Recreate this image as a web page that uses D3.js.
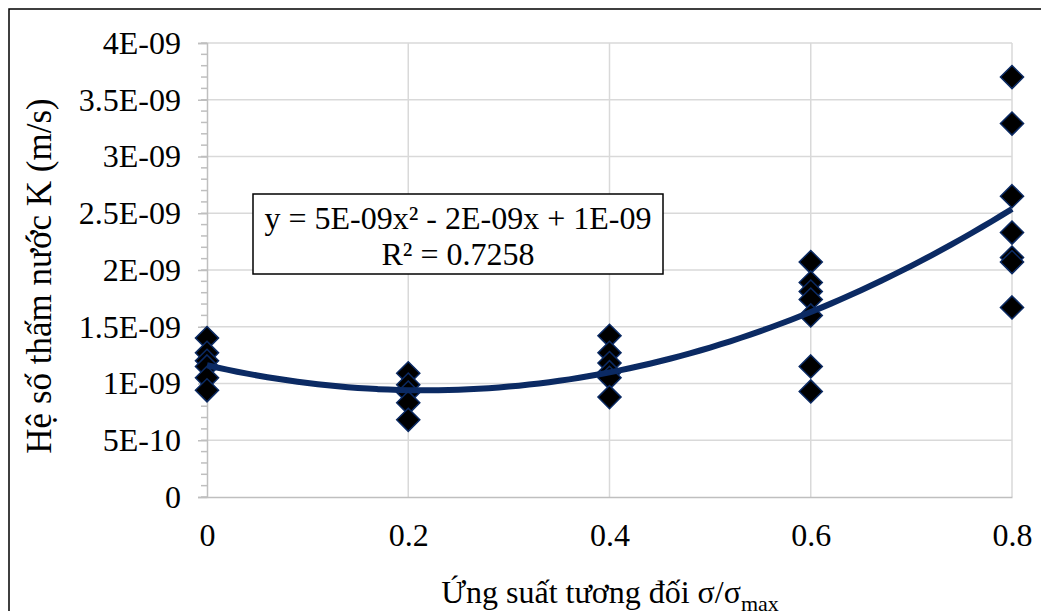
<!DOCTYPE html>
<html>
<head>
<meta charset="utf-8">
<script src="https://cdn.jsdelivr.net/npm/d3@7"></script>
<style>
  body { margin: 0; background: #fff; }
  text { font-family: "Liberation Serif", "Times New Roman", serif; fill: #000; }
</style>
</head>
<body>
<svg id="chart" width="1041" height="611"></svg>
<script>
var stressLevels = [0, 0.2, 0.4, 0.6, 0.8];
var k00 = [1.40e-9, 1.27e-9, 1.20e-9, 1.15e-9, 1.05e-9, 0.94e-9];
var k02 = [1.09e-9, 0.99e-9, 0.92e-9, 0.83e-9, 0.68e-9];
var k04 = [1.42e-9, 1.27e-9, 1.18e-9, 1.10e-9, 1.05e-9, 0.88e-9];
var k06 = [2.07e-9, 1.89e-9, 1.81e-9, 1.74e-9, 1.60e-9, 1.15e-9, 0.93e-9];
var k08 = [3.70e-9, 3.29e-9, 2.65e-9, 2.33e-9, 2.11e-9, 2.07e-9, 1.67e-9];

var xTicks = [0, 0.2, 0.4, 0.6, 0.8];
var xTickLabels = ["0", "0.2", "0.4", "0.6", "0.8"];
var yTicks = [0, 5e-10, 1e-9, 1.5e-9, 2e-9, 2.5e-9, 3e-9, 3.5e-9, 4e-9];
var yTickLabels = ["0", "5E-10", "1E-09", "1.5E-09", "2E-09", "2.5E-09", "3E-09", "3.5E-09", "4E-09"];

var equationText = "y = 5E-09x\u00B2 - 2E-09x + 1E-09";
var r2Text = "R\u00B2 = 0.7258";

// flatten groups into points
var groups = [k00, k02, k04, k06, k08];
var points = [];
groups.forEach(function (g, i) {
    g.forEach(function (v) { points.push({ x: stressLevels[i], y: v }); });
});

var svg = d3.select("#chart");

// outer chart border
svg.append("rect")
    .attr("x", 9).attr("y", 9)
    .attr("width", 1100).attr("height", 700)
    .attr("fill", "#fff")
    .attr("stroke", "#000")
    .attr("stroke-width", 1.5);

var plotL = 207, plotR = 1012, plotT = 43, plotB = 497;

var x = d3.scaleLinear().domain([0, 0.8]).range([plotL, plotR]);
var y = d3.scaleLinear().domain([0, 4e-9]).range([plotB, plotT]);

// gridlines
svg.append("g").selectAll("line")
    .data(yTicks.slice(1))
    .enter().append("line")
    .attr("x1", plotL).attr("x2", plotR)
    .attr("y1", function (d) { return y(d); })
    .attr("y2", function (d) { return y(d); })
    .attr("stroke", "#d9d9d9").attr("stroke-width", 1.5);

svg.append("g").selectAll("line")
    .data(xTicks.slice(1))
    .enter().append("line")
    .attr("y1", plotT).attr("y2", plotB)
    .attr("x1", function (d) { return x(d); })
    .attr("x2", function (d) { return x(d); })
    .attr("stroke", "#d9d9d9").attr("stroke-width", 1.5);

// y axis minor ticks
var minor = d3.range(0, 41).map(function (i) { return i * 1e-10; });
svg.append("g").selectAll("line")
    .data(minor)
    .enter().append("line")
    .attr("x1", plotL - 6).attr("x2", plotL)
    .attr("y1", function (d) { return y(d); })
    .attr("y2", function (d) { return y(d); })
    .attr("stroke", "#bfbfbf").attr("stroke-width", 1.5);

// y axis
var yAxis = d3.axisLeft(y)
    .tickValues(yTicks)
    .tickSize(9)
    .tickPadding(17)
    .tickFormat(function (d, i) { return yTickLabels[i]; });
var gy = svg.append("g").attr("transform", "translate(" + plotL + ",0)").call(yAxis);
gy.select(".domain").attr("stroke", "#bfbfbf").attr("stroke-width", 1.5);
gy.selectAll(".tick line").attr("stroke", "#bfbfbf").attr("stroke-width", 1.5);
gy.selectAll(".tick text").style("font-family", "Liberation Serif").style("font-size", "32px").attr("fill", "#000");

// x axis (no tick marks)
var xAxis = d3.axisBottom(x)
    .tickValues(xTicks)
    .tickSize(0)
    .tickPadding(26)
    .tickFormat(function (d, i) { return xTickLabels[i]; });
var gx = svg.append("g").attr("transform", "translate(0," + plotB + ")").call(xAxis);
gx.select(".domain").attr("stroke", "#bfbfbf").attr("stroke-width", 1.5);
gx.selectAll(".tick text").style("font-family", "Liberation Serif").style("font-size", "32px").attr("fill", "#000");

// quadratic least-squares trendline
function polyFit2(pts) {
    var s = [0, 0, 0, 0, 0], t = [0, 0, 0];
    pts.forEach(function (p) {
        for (var k = 0; k < 5; k++) s[k] += Math.pow(p.x, k);
        for (var k2 = 0; k2 < 3; k2++) t[k2] += p.y * Math.pow(p.x, k2);
    });
    var A = [[s[0], s[1], s[2], t[0]], [s[1], s[2], s[3], t[1]], [s[2], s[3], s[4], t[2]]];
    for (var i = 0; i < 3; i++) {
        for (var j = i + 1; j < 3; j++) {
            var f = A[j][i] / A[i][i];
            for (var c = i; c < 4; c++) A[j][c] -= f * A[i][c];
        }
    }
    var b = [0, 0, 0];
    for (var r = 2; r >= 0; r--) {
        var sum = A[r][3];
        for (var c2 = r + 1; c2 < 3; c2++) sum -= A[r][c2] * b[c2];
        b[r] = sum / A[r][r];
    }
    return b; // c0, c1, c2
}
var coef = polyFit2(points);
var curveX = d3.range(0, 0.8001, 0.01);

// markers
var diamond = d3.symbol().type(d3.symbolDiamond2).size(340);
svg.append("g").selectAll("path")
    .data(points)
    .enter().append("path")
    .attr("d", diamond)
    .attr("transform", function (d) { return "translate(" + x(d.x) + "," + y(d.y) + ")"; })
    .attr("fill", "#000")
    .attr("stroke", "#0b2a63")
    .attr("stroke-width", 1.5);

var line = d3.line()
    .x(function (d) { return x(d); })
    .y(function (d) { return y(coef[0] + coef[1] * d + coef[2] * d * d); })
    .curve(d3.curveMonotoneX);
svg.append("path")
    .datum(curveX)
    .attr("d", line)
    .attr("fill", "none")
    .attr("stroke", "#0b2a63")
    .attr("stroke-width", 6);

// equation box
svg.append("rect")
    .attr("x", 253).attr("y", 194)
    .attr("width", 410).attr("height", 80)
    .attr("fill", "#fff")
    .attr("stroke", "#000")
    .attr("stroke-width", 1.5);
svg.append("text")
    .attr("x", 458).attr("y", 229)
    .attr("text-anchor", "middle")
    .style("font-size", "32px")
    .text(equationText);
svg.append("text")
    .attr("x", 458).attr("y", 265)
    .attr("text-anchor", "middle")
    .style("font-size", "32px")
    .text(r2Text);

// axis titles
svg.append("text")
    .attr("transform", "translate(51,276) rotate(-90)")
    .attr("text-anchor", "middle")
    .style("font-size", "35px")
    .text("Hệ số thấm nước K (m/s)");

var xt = svg.append("text")
    .attr("x", 610).attr("y", 603)
    .attr("text-anchor", "middle")
    .style("font-size", "32px");
xt.append("tspan").text("Ứng suất tương đối σ/σ");
xt.append("tspan").attr("dy", 8).style("font-size", "22px").text("max");
</script>
</body>
</html>
